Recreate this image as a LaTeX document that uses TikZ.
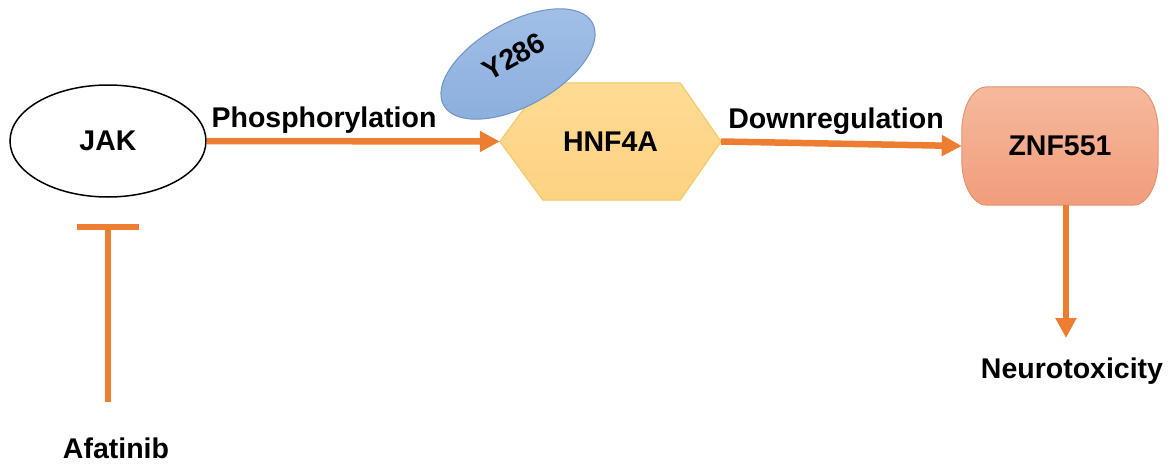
\documentclass[tikz,border=0pt]{standalone}
\usepackage{fontspec}
\setmainfont{Liberation Sans}
\usetikzlibrary{arrows.meta,backgrounds,shapes.geometric}

\definecolor{flow}{HTML}{ED7D31}
\definecolor{hexTop}{HTML}{FFDB94}
\definecolor{hexBot}{HTML}{FDD282}
\definecolor{hexLine}{HTML}{F3C766}
\definecolor{znfTop}{HTML}{F6B99D}
\definecolor{znfBot}{HTML}{F19D7B}
\definecolor{znfLine}{HTML}{E3936F}
\definecolor{tyrTop}{HTML}{A2C0E8}
\definecolor{tyrBot}{HTML}{8BAEDD}
\definecolor{tyrLine}{HTML}{6F94C8}

\begin{document}
\begin{tikzpicture}[x=1pt, y=-1pt,
  lbl/.style={font=\bfseries\fontsize{28.5}{34}\selectfont, inner sep=0pt},
  arr/.style={draw=flow, line width=6.5pt, -{Triangle[length=20pt,width=20pt]}},
  inh/.style={draw=flow, line width=6.5pt, -{Bar[width=62pt]}},
  hexfill/.style={draw=hexLine, line width=1pt, top color=hexTop, bottom color=hexBot},
  znffill/.style={draw=znfLine, line width=1pt, top color=znfTop, bottom color=znfBot},
  tyrfill/.style={lbl, ellipse, draw=tyrLine, line width=1pt, top color=tyrTop, bottom color=tyrBot,
                  minimum width=170pt, minimum height=84pt, text height=20.4pt, text depth=18pt},
]
\useasboundingbox (0,0) rectangle (1176,466);

% main entities
\node[lbl, ellipse, draw=black, line width=1.5pt, fill=white,
      minimum width=196pt, minimum height=112pt] (jak) at (108,141) {JAK};
\node[lbl, minimum width=221pt, minimum height=117pt] (hnf) at (610.5,141.5) {HNF4A};
\node[lbl, minimum width=196pt, minimum height=118pt] (znf) at (1060,146) {ZNF551};

% shapes behind the texts
\begin{scope}[on background layer]
  \path[hexfill] (hnf.west) -- ([xshift=43pt]hnf.north west) -- ([xshift=-41pt]hnf.north east)
    -- (hnf.east) -- ([xshift=-41pt]hnf.south east) -- ([xshift=43pt]hnf.south west) -- cycle;
  \path[znffill] ([xshift=25pt]znf.north west) -- ([xshift=-25pt]znf.north east)
    arc[start angle=90, end angle=0, x radius=25pt, y radius=45pt]
    -- ([yshift=45pt]znf.south east)
    arc[start angle=0, end angle=-90, x radius=25pt, y radius=45pt]
    -- ([xshift=25pt]znf.south west)
    arc[start angle=270, end angle=180, x radius=25pt, y radius=45pt]
    -- ([yshift=-45pt]znf.north west)
    arc[start angle=180, end angle=90, x radius=25pt, y radius=45pt] -- cycle;
\end{scope}

% phosphorylation site, its text set a little above the centre
\node[tyrfill, rotate=29] (tyr) at (518,64) {Y286};

% labels
\node[lbl, anchor=base] (phos) at (324,127) {Phosphorylation};
\node[lbl, anchor=base] (down) at (836,128) {Downregulation};
\node[lbl, anchor=base] (neuro) at (1072,378) {Neurotoxicity};
\node[lbl, anchor=base] (afa) at (116,458) {Afatinib};

% connectors
\coordinate (ntip) at (1066,338);
\draw[arr] (jak.east) -- (hnf.west);
\draw[arr] (hnf.east) -- (znf.west);
\draw[arr] (znf.south -| ntip) -- (ntip);
\draw[inh, shorten <=35pt, shorten >=26pt] (afa.north -| jak.south) -- (jak.south);
\end{tikzpicture}
\end{document}
